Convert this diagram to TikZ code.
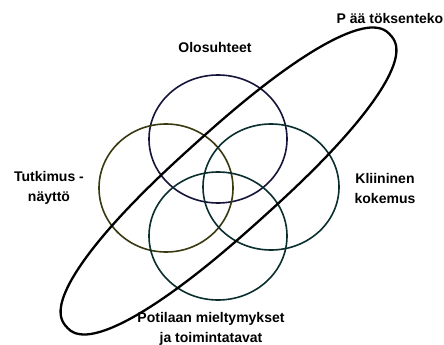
\documentclass[tikz,border=0pt]{standalone}
\usepackage{fontspec}
\setmainfont{Liberation Sans}
\definecolor{cnavy}{HTML}{14143A}
\definecolor{colive}{HTML}{3A3A10}
\definecolor{cteal}{HTML}{0A2E2E}
\tikzset{
  lbl/.style={font=\fontsize{14}{20}\selectfont\bfseries, align=center, inner sep=0pt},
  ring/.style={line width=1.6pt},
}
\begin{document}
\begin{tikzpicture}[x=1pt,y=-1pt]
\useasboundingbox[fill=white] (0,0) rectangle (444,345);
% circles
\draw[ring, cnavy] (218,139) ellipse [x radius=69pt, y radius=64pt];
\draw[ring, colive] (166,188) ellipse [x radius=67pt, y radius=64pt];
\draw[ring, cteal] (271,187) ellipse [x radius=68pt, y radius=63pt];
\draw[ring, cteal] (218,236) ellipse [x radius=69pt, y radius=64pt];
% big ellipse (slightly squarish ends)
\begin{scope}[shift={(228.5,181)}, rotate=42]
\draw[line width=2.3pt, black, line join=round] plot[smooth cycle, samples=72, domain=1:356, variable=\t]
  ({218*sign(cos(\t))*abs(cos(\t))^0.85}, {50*sign(sin(\t))*abs(sin(\t))^0.85});
\end{scope}
% labels
\node[lbl] (olo) at (215,47) {Olosuhteet};
\node[lbl] (paa) at (390,18) {P ää töksenteko};
\node[lbl] (tut) at (49,188) {Tutkimus -\\näyttö};
\node[lbl] (kli) at (385,188) {Kliininen\\kokemus};
\node[lbl] (pot) at (211,329) {Potilaan mieltymykset\\ja toimintatavat};
\end{tikzpicture}
\end{document}
